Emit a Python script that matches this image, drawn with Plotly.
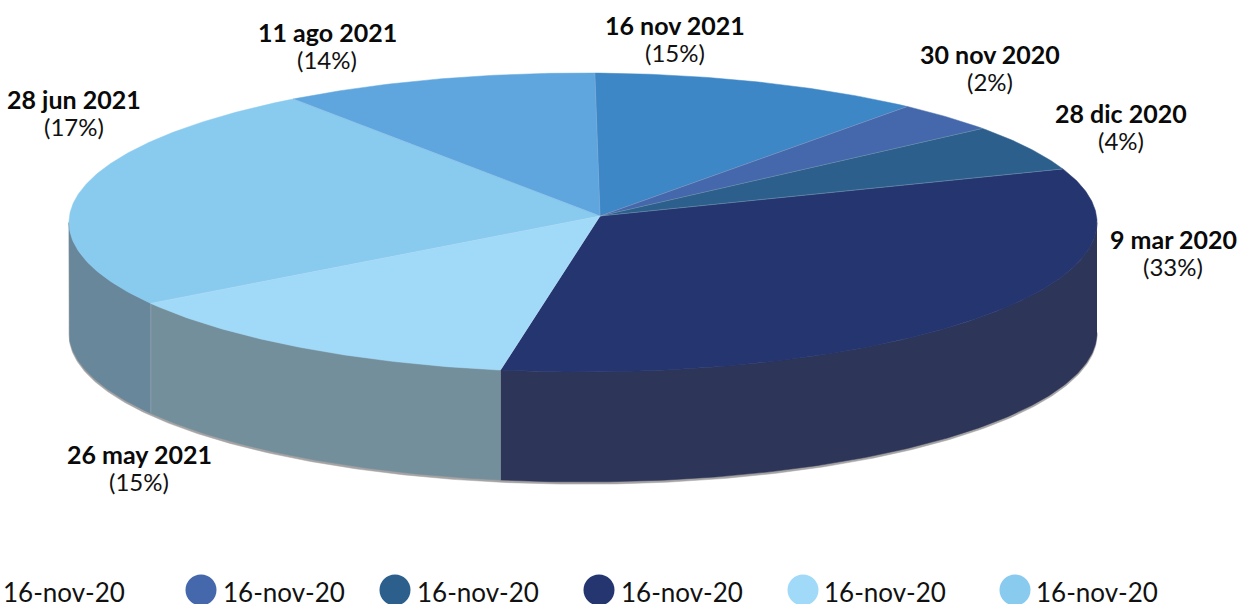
import numpy as np
import plotly.graph_objects as go

# Clockwise from the "9 mar 2020" slice
dates = ["9 mar 2020", "26 may 2021", "28 jun 2021", "11 ago 2021", "16 nov 2021", "30 nov 2020", "28 dic 2020"]
pct_labels = ["(33%)", "(15%)", "(17%)", "(14%)", "(15%)", "(2%)", "(4%)"]
# Share of the rim each slice takes up in the picture
drawn_share = [33.4, 13.33, 24.57, 9.9, 10.5, 3.3, 5.0]
top_colors = ["#25356f", "#a1daf8", "#89caef", "#5fa6de", "#3e87c6", "#4468ab", "#2c5f8c"]
side_colors = ["#2d3559", "#748f9c", "#68879a", "#5f8fb5", "#3a6f9c", "#3c5a8c", "#2a4f72"]

legend_labels = ["16-nov-20"] * 6
legend_colors = [None, "#4468ab", "#2c5f8c", "#25356f", "#a1daf8", "#89caef"]
legend_text_x = [3, 223, 417, 621, 824, 1036]
legend_dot_x = [None, 201, 395, 599, 803, 1015]

label_x = [1173, 139, 74, 327, 675, 990, 1121]
label_y = [240, 455, 100, 33, 26, 55, 114]

CX, CY, RX, RY = 583, 222.5, 514, 149.5
AX, AY = 600, 216
DEPTH = 110
START = 21.0


def rim(t_deg, dy=0.0):
    t = np.radians(t_deg)
    return CX + RX * np.cos(t), CY - RY * np.sin(t) + dy


def arc(a, b, n=None):
    n = n or max(2, int(abs(a - b) * 2))
    return np.linspace(a, b, n)


edges = START - np.concatenate([[0], np.cumsum(drawn_share)]) * 3.6

fig = go.Figure()


def poly(x, y, color):
    fig.add_trace(go.Scatter(x=x, y=y, mode="lines", fill="toself", fillcolor=color,
                             line=dict(width=0.5, color=color), hoverinfo="skip", showlegend=False))


# soft grey edge below the wall
ta = arc(0, -180)
x1, y1 = rim(ta, 0)
x2, y2 = rim(ta[::-1], DEPTH + 2.2)
poly(np.r_[x1, x2], np.r_[y1, y2], "#a5a3a3")

# walls
for i in range(len(drawn_share)):
    hi = min(edges[i], 0.0)
    lo = max(edges[i + 1], -180.0)
    if lo < hi:
        t = arc(hi, lo)
        x1, y1 = rim(t)
        x2, y2 = rim(t[::-1], DEPTH)
        poly(np.r_[x1, x2], np.r_[y1, y2], side_colors[i])

# top faces
for i in range(len(drawn_share)):
    t = arc(edges[i], edges[i + 1])
    x1, y1 = rim(t)
    poly(np.r_[AX, x1, AX], np.r_[AY, y1, AY], top_colors[i])

# thin light separators between slices
sx, sy = [], []
for e in edges[:-1]:
    x, y = rim(e)
    sx += [AX, float(x), None]
    sy += [AY, float(y), None]
fig.add_trace(go.Scatter(x=sx, y=sy, mode="lines", line=dict(width=0.8, color="rgba(255,255,255,0.25)"),
                         hoverinfo="skip", showlegend=False))
wx, wy = [], []
for e in edges[:-1]:
    if -180 < e < 0 and e != edges[0]:
        x, y = rim(e)
        wx += [float(x), float(x), None]
        wy += [float(y), float(y) + DEPTH, None]
fig.add_trace(go.Scatter(x=wx, y=wy, mode="lines", line=dict(width=0.8, color="rgba(255,255,255,0.22)"),
                         hoverinfo="skip", showlegend=False))

# legend row (cut by the bottom of the page, as in the source)
fig.add_trace(go.Scatter(x=[v for v in legend_dot_x if v is not None], y=[590] * 5, mode="markers",
                         marker=dict(size=31, color=[c for c in legend_colors if c], line=dict(width=0)),
                         hoverinfo="skip", showlegend=False))

anns = []
for x, t in zip(legend_text_x, legend_labels):
    anns.append(dict(x=x, y=592, text=t, xanchor="left", yanchor="middle", showarrow=False, xshift=-2,
                     font=dict(family="Lato", size=26, color="#111111")))
for x, y, d, p in zip(label_x, label_y, dates, pct_labels):
    anns.append(dict(x=x, y=y - 1, text="<b>" + d + "</b>", xanchor="center", yanchor="middle", showarrow=False,
                     font=dict(family="Lato", size=25, color="#0a0a0a")))
    anns.append(dict(x=x, y=y + 26, text=p, xanchor="center", yanchor="middle", showarrow=False,
                     font=dict(family="Lato", size=24, color="#111111")))

fig.update_layout(
    width=1239, height=604, margin=dict(l=0, r=0, t=0, b=0), paper_bgcolor="white", plot_bgcolor="white",
    xaxis=dict(range=[0, 1239], visible=False, fixedrange=True),
    yaxis=dict(range=[604, 0], visible=False, fixedrange=True),
    annotations=anns, showlegend=False,
)
fig.write_html("out.html", config={"displayModeBar": False},
               post_script="document.body.style.margin='0';document.documentElement.style.overflow='hidden';")
